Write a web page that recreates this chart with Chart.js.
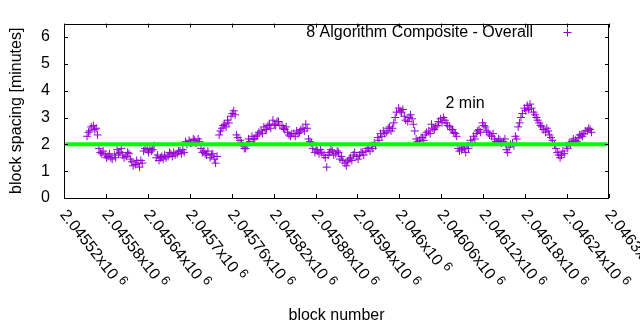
<!DOCTYPE html>
<html>
<head>
<meta charset="utf-8">
<script src="https://cdn.jsdelivr.net/npm/chart.js@4/dist/chart.umd.min.js"></script>
<style>
  html, body { margin: 0; padding: 0; background: #fff; }
</style>
</head>
<body>
<canvas id="chart" width="640" height="330"></canvas>
<script>
// block numbers (x) and block spacing in minutes (y)
const blocks = [
  2045553, 2045557, 2045562, 2045566, 2045570, 2045574, 2045579, 2045583, 2045587, 2045592,
  2045596, 2045600, 2045604, 2045609, 2045613, 2045617, 2045622, 2045626, 2045630, 2045634,
  2045639, 2045643, 2045647, 2045652, 2045656, 2045660, 2045664, 2045669, 2045673, 2045677,
  2045682, 2045686, 2045690, 2045694, 2045699, 2045703, 2045707, 2045712, 2045716, 2045720,
  2045724, 2045729, 2045733, 2045737, 2045742, 2045746, 2045750, 2045754, 2045759, 2045763,
  2045767, 2045772, 2045776, 2045780, 2045784, 2045789, 2045793, 2045797, 2045802, 2045806,
  2045810, 2045814, 2045819, 2045823, 2045827, 2045832, 2045836, 2045840, 2045844, 2045849,
  2045853, 2045857, 2045862, 2045866, 2045870, 2045874, 2045879, 2045883, 2045887, 2045892,
  2045896, 2045900, 2045904, 2045909, 2045913, 2045917, 2045922, 2045926, 2045930, 2045934,
  2045939, 2045943, 2045947, 2045952, 2045956, 2045960, 2045964, 2045969, 2045973, 2045977,
  2045982, 2045986, 2045990, 2045994, 2045999, 2046003, 2046007, 2046012, 2046016, 2046020,
  2046024, 2046029, 2046033, 2046037, 2046042, 2046046, 2046050, 2046054, 2046059, 2046063,
  2046067, 2046072, 2046076, 2046080, 2046084, 2046089, 2046093, 2046097, 2046102, 2046106,
  2046110, 2046114, 2046119, 2046123, 2046127, 2046132, 2046136, 2046140, 2046144, 2046149,
  2046153, 2046157, 2046162, 2046166, 2046170, 2046174, 2046179, 2046183, 2046187, 2046192,
  2046196, 2046200, 2046204, 2046209, 2046213, 2046217, 2046222, 2046226, 2046230, 2046234,
  2046239, 2046243, 2046247, 2046252, 2046256, 2046260, 2046264, 2046269, 2046273
];
const spacing = [
  2.3, 2.5, 2.7, 2.6, 1.85, 1.65, 1.6, 1.55, 1.5, 1.6,
  1.8, 1.7, 1.6, 1.55, 1.65, 1.35, 1.25, 1.3, 1.4, 1.75,
  1.8, 1.85, 1.8, 1.5, 1.4, 1.55, 1.6, 1.55, 1.65, 1.7,
  1.65, 1.75, 1.8, 2.1, 2.15, 2.05, 2.15, 2.2, 1.85, 1.75,
  1.6, 1.5, 1.65, 1.3, 2.35, 2.6, 2.75, 2.9, 3.05, 3.25,
  2.35, 2.15, 1.95, 1.85, 2.2, 2.3, 2.2, 2.35, 2.5, 2.65,
  2.55, 2.75, 2.9, 2.7, 2.85, 2.7, 2.55, 2.45, 2.3, 2.4,
  2.5, 2.45, 2.6, 2.75, 2.2, 2.05, 1.7, 1.75, 1.8, 1.6,
  1.15, 1.7, 1.75, 1.65, 1.7, 1.55, 1.3, 1.35, 1.5, 1.6,
  1.55, 1.6, 1.7, 1.75, 1.85, 1.95, 2.05, 2.25, 2.4, 2.5,
  2.45, 2.65, 2.6, 3.0, 3.35, 3.2, 3.05, 2.85, 3.1, 2.75,
  2.2, 2.15, 2.25, 2.35, 2.5, 2.75, 2.55, 2.7, 2.95, 3.0,
  2.8, 2.65, 2.55, 2.4, 1.85, 1.8, 1.85, 1.95, 2.15, 2.3,
  2.4, 2.55, 2.8, 2.65, 2.45, 2.3, 2.2, 2.1, 2.15, 2.1,
  1.8, 1.9, 2.05, 2.3, 2.65, 3.0, 3.35, 3.45, 3.5, 3.2,
  3.0, 2.8, 2.65, 2.45, 2.5, 2.25, 2.0, 1.7, 1.5, 1.75,
  1.95, 2.05, 2.1, 2.15, 2.25, 2.35, 2.4, 2.5, 2.55
];

const blocksB = [
  2045555, 2045559, 2045564, 2045568, 2045572, 2045576, 2045581, 2045585, 2045589, 2045594,
  2045598, 2045602, 2045606, 2045611, 2045615, 2045619, 2045624, 2045628, 2045632, 2045636,
  2045641, 2045645, 2045649, 2045654, 2045658, 2045662, 2045666, 2045671, 2045675, 2045679,
  2045684, 2045688, 2045692, 2045696, 2045701, 2045705, 2045709, 2045714, 2045718, 2045722,
  2045726, 2045731, 2045735, 2045739, 2045744, 2045748, 2045752, 2045756, 2045761, 2045765,
  2045769, 2045774, 2045778, 2045782, 2045786, 2045791, 2045795, 2045799, 2045804, 2045808,
  2045812, 2045816, 2045821, 2045825, 2045829, 2045834, 2045838, 2045842, 2045846, 2045851,
  2045855, 2045859, 2045864, 2045868, 2045872, 2045876, 2045881, 2045885, 2045889, 2045894,
  2045898, 2045902, 2045906, 2045911, 2045915, 2045919, 2045924, 2045928, 2045932, 2045936,
  2045941, 2045945, 2045949, 2045954, 2045958, 2045962, 2045966, 2045971, 2045975, 2045979,
  2045984, 2045988, 2045992, 2045996, 2046001, 2046005, 2046009, 2046014, 2046018, 2046022,
  2046026, 2046031, 2046035, 2046039, 2046044, 2046048, 2046052, 2046056, 2046061, 2046065,
  2046069, 2046074, 2046078, 2046082, 2046086, 2046091, 2046095, 2046099, 2046104, 2046108,
  2046112, 2046116, 2046121, 2046125, 2046129, 2046134, 2046138, 2046142, 2046146, 2046151,
  2046155, 2046159, 2046164, 2046168, 2046172, 2046176, 2046181, 2046185, 2046189, 2046194,
  2046198, 2046202, 2046206, 2046211, 2046215, 2046219, 2046224, 2046228, 2046232, 2046236,
  2046241, 2046245, 2046249, 2046254, 2046258, 2046262, 2046266, 2046271, 2046275
];
const spacingB = [
  2.45, 2.65, 2.55, 2.35, 1.7, 1.75, 1.5, 1.65, 1.45, 1.5,
  1.65, 1.85, 1.5, 1.7, 1.45, 1.2, 1.4, 1.15, 1.3, 1.85,
  1.7, 1.75, 1.95, 1.6, 1.5, 1.45, 1.5, 1.7, 1.55, 1.6,
  1.75, 1.65, 1.7, 2.0, 2.05, 2.2, 2.05, 2.1, 1.7, 1.65,
  1.75, 1.6, 1.45, 1.55, 2.5, 2.7, 2.65, 2.8, 3.15, 3.1,
  2.25, 2.05, 1.85, 1.95, 2.1, 2.2, 2.3, 2.45, 2.4, 2.55,
  2.7, 2.6, 2.75, 2.85, 2.7, 2.6, 2.65, 2.35, 2.4, 2.3,
  2.4, 2.55, 2.5, 2.6, 2.1, 1.85, 1.8, 1.65, 1.7, 1.5,
  1.6, 1.8, 1.6, 1.75, 1.45, 1.4, 1.2, 1.45, 1.4, 1.7,
  1.45, 1.7, 1.6, 1.85, 1.75, 1.85, 1.95, 2.15, 2.3, 2.4,
  2.6, 2.5, 2.8, 3.2, 3.25, 3.3, 2.9, 3.0, 2.95, 2.5,
  2.1, 2.25, 2.15, 2.45, 2.4, 2.6, 2.65, 2.85, 2.8, 2.9,
  2.7, 2.55, 2.45, 2.3, 1.75, 1.9, 1.7, 1.85, 2.05, 2.2,
  2.5, 2.45, 2.7, 2.5, 2.35, 2.4, 2.1, 2.2, 2.05, 2.2,
  1.7, 2.0, 1.95, 2.2, 2.8, 3.15, 3.25, 3.3, 3.35, 3.1,
  2.9, 2.7, 2.55, 2.6, 2.35, 2.15, 1.85, 1.6, 1.6, 1.65,
  1.85, 2.0, 2.2, 2.1, 2.35, 2.3, 2.5, 2.6, 2.45
];

// the 2 minute reference line
const refBlocks = [2045522, 2046298];
const refMinutes = [2, 2];

const xTicks = [2045520, 2045580, 2045640, 2045700, 2045760, 2045820, 2045880,
  2045940, 2046000, 2046060, 2046120, 2046180, 2046240, 2046300];
const xTickLabels = ['2.04552', '2.04558', '2.04564', '2.0457', '2.04576', '2.04582', '2.04588',
  '2.04594', '2.046', '2.04606', '2.04612', '2.04618', '2.04624', '2.0463'];
const xTickExp = '6';
const yTicks = [0, 1, 2, 3, 4, 5, 6];

const FONT = 'Liberation Sans, Arial, sans-serif';
const PURPLE = '#9400d3';
const TICK = 4;

// gnuplot style box, inward ticks, rotated x labels, key and label
const gnuplotDecor = {
  id: 'gnuplotDecor',
  afterDatasetsDraw(chart) {
    const ctx = chart.ctx;
    const a = chart.chartArea;
    const xs = chart.scales.x;
    const ys = chart.scales.y;
    ctx.save();
    ctx.strokeStyle = '#000';
    ctx.lineWidth = 1;
    ctx.strokeRect(Math.round(a.left) + 0.5, Math.round(a.top) + 0.5,
      Math.round(a.right - a.left) - 1, Math.round(a.bottom - a.top));
    ctx.beginPath();
    xTicks.forEach(v => {
      const px = Math.round(xs.getPixelForValue(v)) + 0.5;
      ctx.moveTo(px, a.bottom); ctx.lineTo(px, a.bottom - TICK);
      ctx.moveTo(px, a.top); ctx.lineTo(px, a.top + TICK);
    });
    yTicks.forEach(v => {
      const py = Math.round(ys.getPixelForValue(v)) + 0.5;
      ctx.moveTo(a.left, py); ctx.lineTo(a.left + TICK, py);
      ctx.moveTo(a.right, py); ctx.lineTo(a.right - TICK, py);
    });
    ctx.stroke();

    // rotated tick labels
    ctx.fillStyle = '#000';
    xTicks.forEach((v, i) => {
      const px = xs.getPixelForValue(v);
      ctx.save();
      ctx.translate(px - 1, a.bottom + 14);
      ctx.rotate(52 * Math.PI / 180);
      ctx.textAlign = 'left';
      ctx.textBaseline = 'middle';
      ctx.font = '16px ' + FONT;
      const main = xTickLabels[i] + 'x10';
      ctx.fillText(main, 0, 0);
      const w = ctx.measureText(main).width;
      ctx.font = '13px ' + FONT;
      ctx.fillText(xTickExp, w + 4, -5);
      ctx.restore();
    });

    // key
    ctx.font = '16px ' + FONT;
    ctx.textAlign = 'right';
    ctx.textBaseline = 'middle';
    ctx.fillText('8 Algorithm Composite - Overall', 533, 33);
    ctx.strokeStyle = PURPLE;
    ctx.beginPath();
    ctx.moveTo(563.5, 32.5); ctx.lineTo(571.5, 32.5);
    ctx.moveTo(567.5, 28.5); ctx.lineTo(567.5, 36.5);
    ctx.stroke();

    // label
    ctx.textAlign = 'left';
    ctx.fillText('2 min', xs.getPixelForValue(2046066), ys.getPixelForValue(3.53));
    ctx.restore();
  }
};

const points = blocks.map((b, i) => ({ x: b, y: spacing[i] }))
  .concat(blocksB.map((b, i) => ({ x: b, y: spacingB[i] })));

new Chart(document.getElementById('chart'), {
  type: 'scatter',
  data: {
    datasets: [
      {
        label: '2 min',
        data: refBlocks.map((b, i) => ({ x: b, y: refMinutes[i] })),
        showLine: true,
        borderColor: '#00ff00',
        borderWidth: 4,
        pointRadius: 0
      },
      {
        label: '8 Algorithm Composite - Overall',
        data: points,
        pointStyle: 'cross',
        pointRadius: 4,
        borderColor: PURPLE,
        backgroundColor: PURPLE,
        borderWidth: 1
      }
    ]
  },
  options: {
    responsive: false,
    animation: false,
    devicePixelRatio: 1,
    layout: { padding: { top: 19, right: 31, left: 0, bottom: 0 } },
    plugins: { legend: { display: false }, tooltip: { enabled: false } },
    scales: {
      x: {
        type: 'linear',
        min: 2045520,
        max: 2046300,
        afterBuildTicks: s => { s.ticks = xTicks.map(v => ({ value: v })); },
        afterFit: s => { s.height = 132; },
        grid: { display: false, drawTicks: false },
        border: { display: false },
        ticks: { display: false },
        title: {
          display: true,
          text: 'block number',
          color: '#000',
          font: { family: FONT, size: 16 },
          padding: { top: 0, bottom: 5 }
        }
      },
      y: {
        min: 0,
        max: 6.5,
        afterBuildTicks: s => { s.ticks = yTicks.map(v => ({ value: v })); },
        afterFit: s => { s.width = 64; },
        grid: { display: false, drawTicks: false },
        border: { display: false },
        ticks: { color: '#000', padding: 14, font: { family: FONT, size: 16 } },
        title: {
          display: true,
          text: 'block spacing [minutes]',
          color: '#000',
          font: { family: FONT, size: 16 },
          padding: { top: 7, bottom: 0 }
        }
      }
    }
  },
  plugins: [gnuplotDecor]
});
</script>
</body>
</html>
